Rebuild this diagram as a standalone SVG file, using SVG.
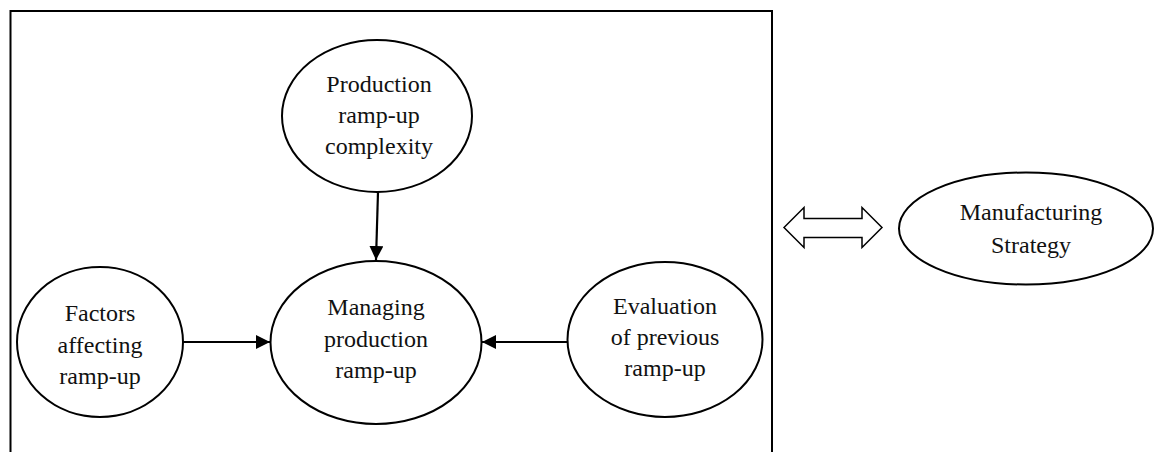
<svg xmlns="http://www.w3.org/2000/svg" width="1157" height="452" viewBox="0 0 1157 452">
  <style>
    .node ellipse { fill: #fff; stroke: #000; stroke-width: 2; }
    .node text { font-family: "Liberation Serif", "Times New Roman", serif; font-size: 24px; fill: #111; text-anchor: middle; }
    .conn { stroke: #000; stroke-width: 2.2; fill: none; marker-end: url(#ah); }
  </style>
  <defs>
    <marker id="ah" viewBox="0 0 10 10" refX="10" refY="5" markerWidth="14" markerHeight="14" markerUnits="userSpaceOnUse" orient="auto">
      <path d="M0,0 L10,5 L0,10 z" fill="#000"/>
    </marker>
  </defs>
  <rect width="1157" height="452" fill="#fff"/>
  <g id="frame">
    <path d="M10.5,460 L10.5,11 L772,11 L772,460" fill="none" stroke="#000" stroke-width="2"/>
  </g>
  <g id="connectors">
    <line class="conn" x1="378" y1="192" x2="376" y2="260"/>
    <line class="conn" x1="183" y1="342" x2="270" y2="342"/>
    <line class="conn" x1="567" y1="342" x2="482" y2="342"/>
    <path d="M784,227.5 L804,207.5 L804,218.5 L862,218.5 L862,207.5 L882,227.5 L862,247.5 L862,237.5 L804,237.5 L804,247.5 Z" fill="#fff" stroke="#000" stroke-width="1.5"/>
  </g>
  <g id="n-complexity" class="node">
    <ellipse cx="377" cy="116" rx="95" ry="76"/>
    <text x="379" y="92">Production</text>
    <text x="379" y="123">ramp-up</text>
    <text x="379" y="154">complexity</text>
  </g>
  <g id="n-managing" class="node">
    <ellipse cx="376" cy="342.5" rx="105.5" ry="81.5"/>
    <text x="376" y="315">Managing</text>
    <text x="376" y="346.5">production</text>
    <text x="376" y="378">ramp-up</text>
  </g>
  <g id="n-factors" class="node">
    <ellipse cx="100" cy="342" rx="83" ry="75"/>
    <text x="100" y="321">Factors</text>
    <text x="100" y="353">affecting</text>
    <text x="100" y="384">ramp-up</text>
  </g>
  <g id="n-evaluation" class="node">
    <ellipse cx="665" cy="339.5" rx="97.5" ry="77.5"/>
    <text x="665" y="314">Evaluation</text>
    <text x="665" y="345">of previous</text>
    <text x="665" y="376">ramp-up</text>
  </g>
  <g id="n-strategy" class="node">
    <ellipse cx="1026" cy="228.5" rx="127" ry="56"/>
    <text x="1031" y="220">Manufacturing</text>
    <text x="1031" y="253">Strategy</text>
  </g>
</svg>
